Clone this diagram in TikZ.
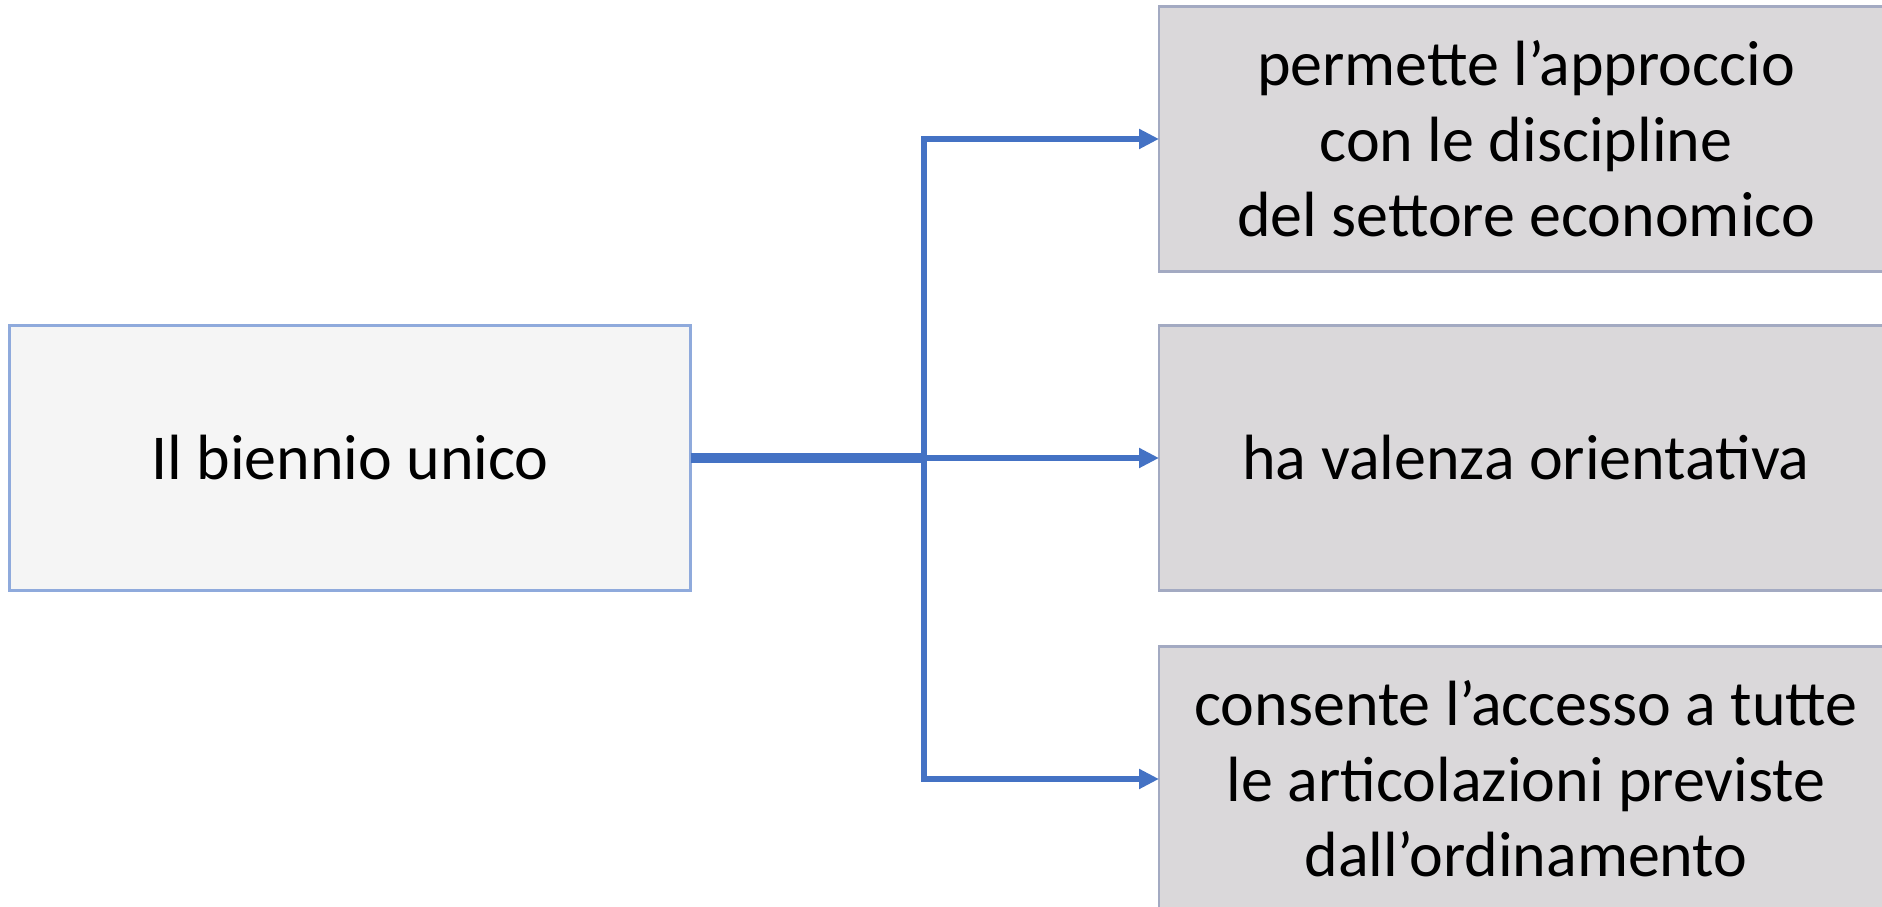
\documentclass[tikz,border=0pt]{standalone}
\usepackage{fontspec}
\setmainfont{Carlito}
\usepackage{xcolor}
\usetikzlibrary{positioning,arrows.meta}
\definecolor{linkblue}{HTML}{4472C4}
\definecolor{startfill}{HTML}{F5F5F5}
\definecolor{startline}{HTML}{8FAADC}
\definecolor{leaffill}{HTML}{DAD8DA}
\definecolor{leafline}{HTML}{A3AAC2}
\tikzset{
  startbox/.style={draw=startline,fill=startfill,line width=0.8pt,minimum width=6.81cm,
    minimum height=2.65cm,outer sep=0pt,align=center,font=\fontsize{18.2}{21.5}\selectfont},
  leafbox/.style={draw=leafline,fill=leaffill,line width=0.8pt,minimum width=7.34cm,
    minimum height=2.65cm,outer sep=0pt,align=center,font=\fontsize{18.2}{21.5}\selectfont},
  branch/.style={linkblue,line width=1.9pt,-{Triangle[length=0.2cm,width=0.19cm]}}
}
\begin{document}
\begin{tikzpicture}
\useasboundingbox (0,0) rectangle (18.82,9.07);
\node[startbox] (biennio) at (3.50,4.49) {Il biennio unico};
\node[leafbox] (valenza) at (15.26,4.49) {ha valenza orientativa};
\node[leafbox,above=0.54cm of valenza] (approccio) {permette l’approccio\\con le discipline\\del settore economico};
\node[leafbox,below=0.56cm of valenza] (accesso) {consente l’accesso a tutte\\le articolazioni previste\\dall’ordinamento};
\coordinate (fork) at (9.24,4.49);
\draw[linkblue,line width=3pt] (biennio.east) -- (fork);
\foreach \T in {approccio,valenza,accesso}
{\draw[branch] (fork) |- (\T.west);
}
\end{tikzpicture}
\end{document}
